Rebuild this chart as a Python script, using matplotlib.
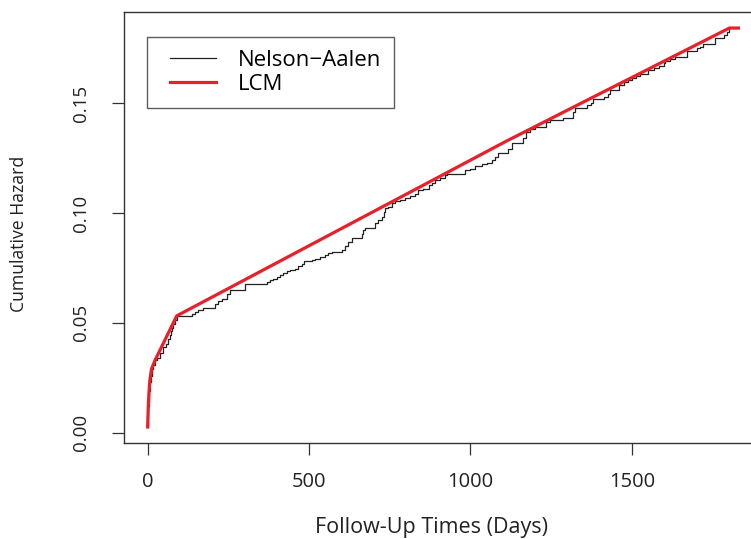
import matplotlib
matplotlib.use("Agg")
import matplotlib.pyplot as plt
from matplotlib.lines import Line2D
from matplotlib.legend_handler import HandlerLine2D

plt.rcParams['font.family'] = ['Open Sans', 'DejaVu Sans']

# Nelson-Aalen step estimate (time in days, cumulative hazard after the jump)
na_time = [0, 1, 2, 3, 5, 7, 10, 14, 18, 23, 28, 38, 49, 57, 64, 68, 71, 76, 80, 85, 90,
           137, 147, 157, 170, 209, 219, 231, 245, 255, 302, 369, 379, 389, 400, 410,
           420, 431, 441, 457, 467, 477, 485, 508, 519, 534, 550, 560, 570, 601, 611,
           622, 632, 663, 668, 673, 704, 715, 725, 732, 735, 746, 756, 766, 782, 797,
           813, 828, 839, 854, 870, 880, 890, 906, 921, 927, 983, 999, 1014, 1035,
           1050, 1066, 1076, 1086, 1117, 1128, 1164, 1172, 1185, 1200, 1234, 1247,
           1288, 1317, 1324, 1360, 1373, 1381, 1414, 1427, 1433, 1461, 1476, 1489,
           1500, 1513, 1525, 1551, 1567, 1585, 1598, 1603, 1618, 1634, 1670, 1703,
           1711, 1721, 1758, 1786, 1794, 1802, 1830]
na_haz = [0.0026, 0.008, 0.012, 0.015, 0.019, 0.023, 0.026, 0.029, 0.031, 0.033,
          0.0340, 0.0362, 0.0390, 0.0405, 0.0425, 0.0445, 0.0462, 0.0478, 0.0495,
          0.0512, 0.0530, 0.0542, 0.0550, 0.0560, 0.0570, 0.0585, 0.0598, 0.0610,
          0.0633, 0.0652, 0.0675, 0.0686, 0.0694, 0.0702, 0.0709, 0.0717, 0.0727,
          0.0737, 0.0743, 0.0747, 0.0758, 0.0770, 0.0781, 0.0785, 0.0793, 0.0800,
          0.0808, 0.0819, 0.0825, 0.0834, 0.0849, 0.0869, 0.0887, 0.0907, 0.0925,
          0.0934, 0.0953, 0.0968, 0.0983, 0.1006, 0.1024, 0.1028, 0.1044, 0.1056,
          0.1062, 0.1071, 0.1077, 0.1089, 0.1104, 0.1112, 0.1127, 0.1138, 0.1150,
          0.1162, 0.1175, 0.1180, 0.1196, 0.1203, 0.1214, 0.1223, 0.1229, 0.1241,
          0.1256, 0.1273, 0.1294, 0.1320, 0.1340, 0.1370, 0.1381, 0.1390, 0.1416,
          0.1423, 0.1431, 0.1461, 0.1481, 0.1492, 0.1500, 0.1518, 0.1530, 0.1542,
          0.1562, 0.1583, 0.1598, 0.1606, 0.1615, 0.1625, 0.1633, 0.1650, 0.1660,
          0.1670, 0.1685, 0.1692, 0.1700, 0.1712, 0.1738, 0.1750, 0.1758, 0.1770,
          0.1796, 0.1810, 0.1825, 0.1843, 0.1843]

# least concave majorant vertices
lcm_time = [0, 2, 4, 7, 12, 23, 90, 1110, 1802, 1830]
lcm_haz = [0.0026, 0.012, 0.018, 0.024, 0.029, 0.033, 0.0532, 0.1327, 0.1843, 0.1843]

xticks = [0, 500, 1000, 1500]
yticks = [0.00, 0.05, 0.10, 0.15]

RED = '#E8202A'
INK = '#222222'

fig = plt.figure(figsize=(7.51, 5.39), dpi=100)
# plot region runs past the right edge, like the cropped original
ax = fig.add_axes([124 / 751, 96 / 539, 638 / 751, 431 / 539])

ax.step(na_time, na_haz, where='post', color=INK, lw=0.9)
ax.plot(lcm_time, lcm_haz, color=RED, lw=2.3)

ax.set_xlim(-73.2, 1903)
ax.set_ylim(-0.0047, 0.1916)
ax.set_xticks(xticks)
ax.set_yticks(yticks)
ax.set_yticklabels([f"{v:.2f}" for v in yticks], rotation=90, va='center')
ax.tick_params(direction='out', length=8.6, width=0.9, color='#333333',
               labelcolor=INK)
ax.tick_params(axis='x', labelsize=14.5, pad=12.5)
ax.tick_params(axis='y', labelsize=13.5, pad=16)

for s in ax.spines.values():
    s.set_color('#333333')
    s.set_linewidth(1.0)

ax.set_xlabel("Follow-Up Times (Days)", fontsize=15.5, color=INK, va='center')
ax.xaxis.set_label_coords((431 - 124) / 638, -(527 - 443) / 431)
ax.set_ylabel("Cumulative Hazard", fontsize=12.7, color=INK, va='center')
ax.yaxis.set_label_coords(-(124 - 19) / 638, (443 - 234) / 431)

fs = 16
handles = [Line2D([], [], color=INK, lw=0.9),
           Line2D([], [], color=RED, lw=2.3)]
hmap = {h: HandlerLine2D(xpad=0.435) for h in handles}
leg = ax.legend(handles, ["Nelson\u2212Aalen", "LCM"], loc='upper left',
                bbox_to_anchor=((147.3 - 124) / 638, (443 - 36.7) / 431),
                borderaxespad=0, fancybox=False, fontsize=fs,
                handlelength=2.5, handletextpad=1.0, borderpad=0.58,
                labelspacing=0.14, handler_map=hmap)
leg.get_frame().set_edgecolor('#333333')
leg.get_frame().set_linewidth(1.0)

fig.savefig("out.png", dpi=100)
